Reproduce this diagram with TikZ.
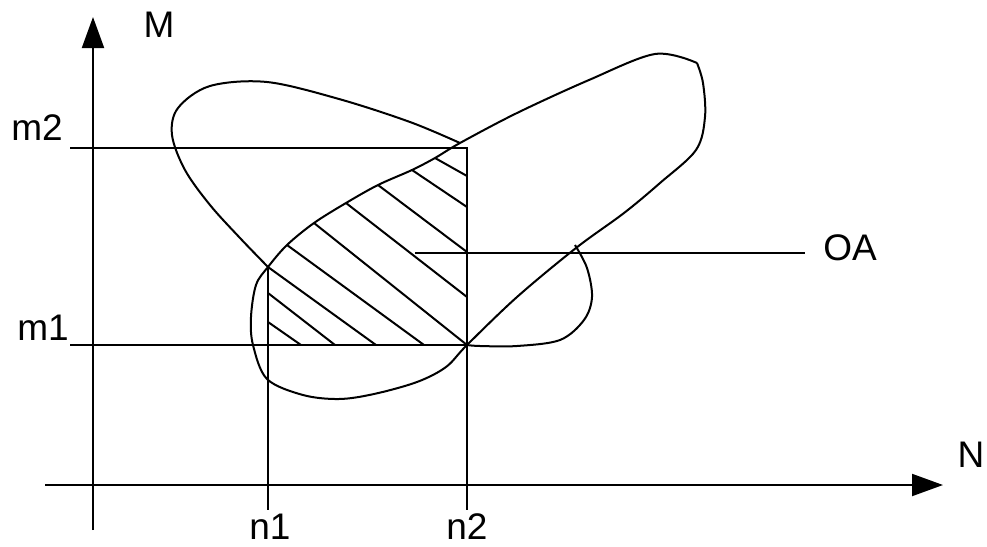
\documentclass[tikz,border=0pt]{standalone}
\usepackage{fontspec}
\setmainfont{Liberation Sans}
\usetikzlibrary{arrows.meta}
\begin{document}
\begin{tikzpicture}[x=0.5pt,y=-0.5pt,
  ln/.style={line width=1pt, line join=round},
  axisarrow/.style={line width=1pt, -{Triangle[length=15.5pt,width=11pt]}},
  lbl/.style={font=\fontsize{18.5}{20}\selectfont, anchor=base, inner sep=0pt},
  hatchline/.style={line width=1pt}]
\useasboundingbox (0,0) rectangle (987,547);
% axes
\coordinate (yb) at (93,530);
\coordinate (yt) at (93,17);
\coordinate (xl) at (45,485);
\coordinate (xr) at (943,485);
\draw[axisarrow] (yb) -- (yt);
\draw[axisarrow] (xl) -- (xr);
% labels
\node[lbl] (M) at (159,37) {M};
\node[lbl] (N) at (971,467) {N};
\node[lbl] (m2) at (37,140) {m2};
\node[lbl] (m1) at (43,340) {m1};
\node[lbl] (n1) at (270,539) {n1};
\node[lbl] (n2) at (467,539) {n2};
\node[lbl] (OA) at (850,260) {OA};
% guide lines
\coordinate (m2l) at (70,147.5);
\coordinate (c22) at (467,147.5);
\coordinate (n2b) at (467,510);
\coordinate (m1l) at (70,345);
\coordinate (c21) at (467,345);
\coordinate (n1t) at (268,267);
\coordinate (n1b) at (268,510);
\coordinate (oal) at (415,253);
\coordinate (oar) at (805,253);
\draw[ln, line join=miter] (m2l) -- (c22) -- (n2b);
\draw[ln] (m1l) -- (c21);
\draw[ln] (n1t) -- (n1b);
\draw[ln] (oal) -- (oar);
% curve B (elongated loop)
\draw[ln] plot[smooth, tension=0.55] coordinates {
 (697,63) (703,83) (705,117) (696,150) (660,183) (624,213) (576,248)
 (517,297) (467,345) (446,367) (417,382) (374,394) (339,399) (303,395)
 (267,379) (253,345) (251,317) (256,285) (268,267) (287,245) (314,223)
 (346,203) (378,185) (412,170) (435,158) (460,143) (517,113) (589,80)
 (655,54) (697,63)};
% curve A upper-left lobe
\draw[ln] plot[smooth, tension=0.55] coordinates {
 (460,143) (410,122) (339,99) (267,82) (210,86) (178,108) (172,135)
 (185,170) (210,205) (240,238) (268,267)};
% curve A right lobe
\draw[ln] plot[smooth, tension=0.55] coordinates {
 (467,345) (480,346) (517,346) (560,340) (584,320) (592,297) (587,268) (575,245)};
% hatching
\draw[hatchline] (435,158) -- (467,176);
\draw[hatchline] (412,170) -- (467,207);
\draw[hatchline] (378,185) -- (467,252);
\draw[hatchline] (346,203) -- (467,297);
\draw[hatchline] (314,223) -- (467,345);
\draw[hatchline] (287,245) -- (424,345);
\draw[hatchline] (268,267) -- (376,345);
\draw[hatchline] (268,293) -- (335,345);
\draw[hatchline] (268,322) -- (301,345);
\end{tikzpicture}
\end{document}
